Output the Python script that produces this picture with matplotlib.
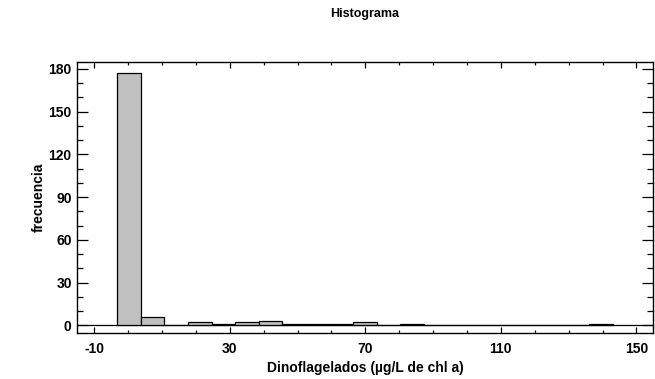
import matplotlib
matplotlib.use("Agg")
import matplotlib.pyplot as plt
import numpy as np
from matplotlib.ticker import MultipleLocator

plt.rcParams["font.family"] = ["Liberation Sans", "DejaVu Sans"]
plt.rcParams["font.weight"] = "bold"
plt.rcParams["axes.unicode_minus"] = False

# histogram bins (µg/L) and counts
bin_start = -3.2
bin_width = 6.96
counts = [177, 6, 0, 2, 1, 2, 3, 1, 1, 1, 2, 0, 1, 0, 0, 0, 0, 0, 0, 0, 1]

x_ticks = [-10, 30, 70, 110, 150]
y_ticks = [0, 30, 60, 90, 120, 150, 180]

title = "Histograma"
x_label = "Dinoflagelados (µg/L de chl a)"
y_label = "frecuencia"

edges = bin_start + bin_width * np.arange(len(counts) + 1)

fig = plt.figure(figsize=(6.55, 3.79), dpi=100)
ax = fig.add_axes([0.118, 0.1214, 0.8795, 0.7142])

ax.bar(edges[:-1], counts, width=np.diff(edges), align="edge",
       color="#c0c0c0", edgecolor="black", linewidth=0.9, zorder=2)
ax.axhline(0, color="black", linewidth=0.9, zorder=1)

ax.set_xlim(-15, 155)
ax.set_ylim(-5.4, 184.7)
ax.set_xticks(x_ticks)
ax.set_yticks(y_ticks)
ax.xaxis.set_minor_locator(MultipleLocator(10))
ax.yaxis.set_minor_locator(MultipleLocator(10))

ax.tick_params(axis="x", which="both", direction="in", top=True, bottom=True,
               labelsize=10, pad=6.5, width=0.9)
ax.tick_params(axis="x", which="major", length=4)
ax.tick_params(axis="x", which="minor", length=2)
ax.tick_params(axis="y", which="both", direction="in", left=True, right=True,
               labelsize=10, pad=4, width=0.9)
ax.tick_params(axis="y", which="major", length=8)
ax.tick_params(axis="y", which="minor", length=4)
for lab in ax.get_xticklabels() + ax.get_yticklabels():
    lab.set_fontweight("bold")

for sp in ax.spines.values():
    sp.set_linewidth(1.0)

ax.set_xlabel(x_label, fontsize=10, fontweight="bold", labelpad=3.5)
ax.set_ylabel(y_label, fontsize=10, fontweight="bold", labelpad=2)
fig.text(0.557, 0.963, title, ha="center", va="center",
         fontsize=9, fontweight="bold")

fig.savefig("out.png", dpi=100)
